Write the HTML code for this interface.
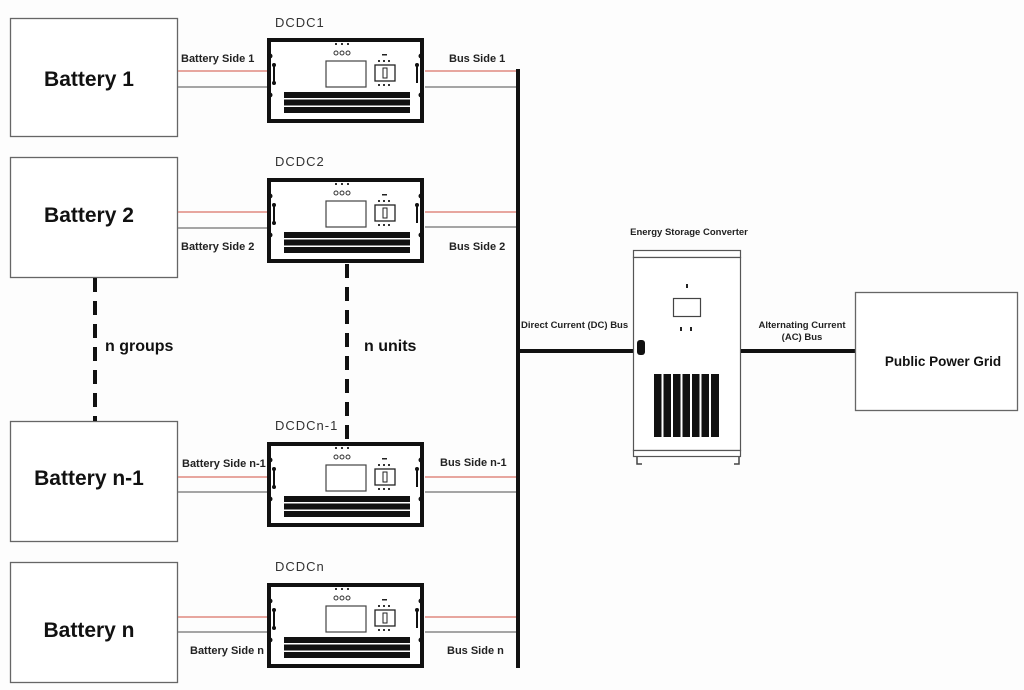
<!DOCTYPE html>
<html><head><meta charset="utf-8"><style>
html,body{margin:0;padding:0;background:#fdfdfd;}
svg{display:block;font-family:"Liberation Sans","DejaVu Sans",sans-serif;}
</style></head><body>
<svg width="1024" height="690" viewBox="0 0 1024 690" xmlns="http://www.w3.org/2000/svg">
<defs>
<g id="dcdc">
  <rect x="2" y="2" width="153" height="81" fill="#fff" stroke="#111" stroke-width="4"/>
  <circle cx="3" cy="18" r="2.5" fill="#111"/><circle cx="3" cy="57" r="2.5" fill="#111"/>
  <circle cx="154" cy="18" r="2.5" fill="#111"/><circle cx="154" cy="57" r="2.5" fill="#111"/>
  <line x1="7" y1="27" x2="7" y2="45" stroke="#111" stroke-width="2"/>
  <circle cx="7" cy="27" r="2" fill="#111"/><circle cx="7" cy="45" r="2" fill="#111"/>
  <line x1="150" y1="27" x2="150" y2="45" stroke="#111" stroke-width="2"/>
  <circle cx="150" cy="27" r="2" fill="#111"/>
  <rect x="68" y="5" width="2" height="2" fill="#333"/><rect x="74" y="5" width="2" height="2" fill="#333"/><rect x="80" y="5" width="2" height="2" fill="#333"/>
  <circle cx="69" cy="15" r="2" fill="none" stroke="#333" stroke-width="1"/><circle cx="75" cy="15" r="2" fill="none" stroke="#333" stroke-width="1"/><circle cx="81" cy="15" r="2" fill="none" stroke="#333" stroke-width="1"/>
  <rect x="59" y="23" width="40" height="26" fill="#fff" stroke="#444" stroke-width="1.2"/>
  <rect x="115" y="16" width="5" height="1.5" fill="#222"/>
  <rect x="108" y="27" width="20" height="16" fill="#fff" stroke="#222" stroke-width="1.3"/>
  <rect x="116" y="30" width="4" height="10" fill="none" stroke="#222" stroke-width="1"/>
  <rect x="111" y="22" width="2" height="2" fill="#333"/><rect x="116" y="22" width="2" height="2" fill="#333"/><rect x="121" y="22" width="2" height="2" fill="#333"/>
  <rect x="111" y="46" width="2" height="2" fill="#333"/><rect x="116" y="46" width="2" height="2" fill="#333"/><rect x="121" y="46" width="2" height="2" fill="#333"/>
  <rect x="17" y="54" width="126" height="6" fill="#111"/>
  <rect x="17" y="61.5" width="126" height="6" fill="#111"/>
  <rect x="17" y="69" width="126" height="6" fill="#111"/>
</g>
</defs>

<!-- battery boxes -->
<g fill="#fff" stroke="#666" stroke-width="1.3">
<rect x="10.5" y="18.5" width="167" height="118"/>
<rect x="10.5" y="157.5" width="167" height="120"/>
<rect x="10.5" y="421.5" width="167" height="120"/>
<rect x="10.5" y="562.5" width="167" height="120"/>
</g>
<g font-size="21" font-weight="bold" fill="#111" text-anchor="middle">
<text x="89" y="86">Battery 1</text>
<text x="89" y="222">Battery 2</text>
<text x="89" y="485">Battery n-1</text>
<text x="89" y="637">Battery n</text>
</g>

<!-- wires -->
<g stroke-width="1.5">
<line x1="178" y1="71" x2="268" y2="71" stroke="#e08a80"/><line x1="178" y1="87" x2="268" y2="87" stroke="#888"/>
<line x1="425" y1="71" x2="518" y2="71" stroke="#e08a80"/><line x1="425" y1="87" x2="518" y2="87" stroke="#888"/>
<line x1="178" y1="212" x2="268" y2="212" stroke="#e08a80"/><line x1="178" y1="228" x2="268" y2="228" stroke="#888"/>
<line x1="425" y1="212" x2="518" y2="212" stroke="#e08a80"/><line x1="425" y1="227" x2="518" y2="227" stroke="#888"/>
<line x1="178" y1="477" x2="268" y2="477" stroke="#e08a80"/><line x1="178" y1="492" x2="268" y2="492" stroke="#888"/>
<line x1="425" y1="477" x2="518" y2="477" stroke="#e08a80"/><line x1="425" y1="492" x2="518" y2="492" stroke="#888"/>
<line x1="178" y1="617" x2="268" y2="617" stroke="#e08a80"/><line x1="178" y1="632" x2="268" y2="632" stroke="#888"/>
<line x1="425" y1="617" x2="518" y2="617" stroke="#e08a80"/><line x1="425" y1="632" x2="518" y2="632" stroke="#888"/>
</g>

<!-- DC bus -->
<line x1="518" y1="69" x2="518" y2="668" stroke="#111" stroke-width="4"/>

<!-- dcdc boxes -->
<use href="#dcdc" x="267" y="38"/>
<use href="#dcdc" x="267" y="178"/>
<use href="#dcdc" x="267" y="442"/>
<use href="#dcdc" x="267" y="583"/>

<g font-size="13" fill="#333" letter-spacing="1">
<text x="275" y="27">DCDC1</text>
<text x="275" y="166">DCDC2</text>
<text x="275" y="430">DCDCn-1</text>
<text x="275" y="571">DCDCn</text>
</g>

<g font-size="11" font-weight="bold" fill="#222">
<text x="181" y="62">Battery Side 1</text>
<text x="449" y="62">Bus Side 1</text>
<text x="181" y="250">Battery Side 2</text>
<text x="449" y="250">Bus Side 2</text>
<text x="182" y="467">Battery Side n-1</text>
<text x="440" y="466">Bus Side n-1</text>
<text x="190" y="654">Battery Side n</text>
<text x="447" y="654">Bus Side n</text>
</g>

<!-- dashed -->
<line x1="95" y1="278" x2="95" y2="421" stroke="#111" stroke-width="4" stroke-dasharray="14,9"/>
<line x1="347" y1="264" x2="347" y2="442" stroke="#111" stroke-width="4" stroke-dasharray="14,9"/>
<text x="105" y="351" font-size="16" font-weight="bold" fill="#111">n groups</text>
<text x="364" y="351" font-size="16" font-weight="bold" fill="#111">n units</text>

<!-- DC line to converter -->
<line x1="518" y1="351" x2="634" y2="351" stroke="#111" stroke-width="4"/>
<text x="521" y="328" font-size="9.5" font-weight="bold" fill="#222">Direct Current (DC) Bus</text>

<!-- converter -->
<text x="689" y="235" font-size="9.5" font-weight="bold" fill="#222" text-anchor="middle">Energy Storage Converter</text>
<rect x="633.5" y="250.5" width="107" height="7" fill="#fff" stroke="#555" stroke-width="1.2"/>
<rect x="633.5" y="257.5" width="107" height="193" fill="#fff" stroke="#555" stroke-width="1.2"/>
<rect x="633.5" y="450.5" width="107" height="6" fill="#fff" stroke="#555" stroke-width="1.2"/>
<path d="M637 457 V464 H642 M739 457 V464 H734" fill="none" stroke="#444" stroke-width="1.5"/>
<rect x="637" y="340" width="8" height="15" rx="3" fill="#111"/>
<rect x="686" y="284" width="2" height="4" fill="#222"/>
<rect x="673.5" y="298.5" width="27" height="18" fill="#fff" stroke="#444" stroke-width="1.2"/>
<rect x="680" y="327" width="2" height="4" fill="#222"/><rect x="690" y="327" width="2" height="4" fill="#222"/>
<g fill="#111">
<rect x="654" y="374" width="7.5" height="63"/><rect x="663.5" y="374" width="7.5" height="63"/>
<rect x="673" y="374" width="7.5" height="63"/><rect x="682.5" y="374" width="7.5" height="63"/>
<rect x="692" y="374" width="7.5" height="63"/><rect x="701.5" y="374" width="7.5" height="63"/>
<rect x="711" y="374" width="8" height="63"/>
</g>

<!-- AC -->
<line x1="741" y1="351" x2="855" y2="351" stroke="#111" stroke-width="4"/>
<text x="802" y="328" font-size="9.5" font-weight="bold" fill="#222" text-anchor="middle">Alternating Current</text>
<text x="802" y="340" font-size="9.5" font-weight="bold" fill="#222" text-anchor="middle">(AC) Bus</text>

<rect x="855.5" y="292.5" width="162" height="118" fill="#fff" stroke="#666" stroke-width="1.3"/>
<text x="943" y="366" font-size="13.5" font-weight="bold" fill="#111" text-anchor="middle">Public Power Grid</text>
</svg>
</body></html>
